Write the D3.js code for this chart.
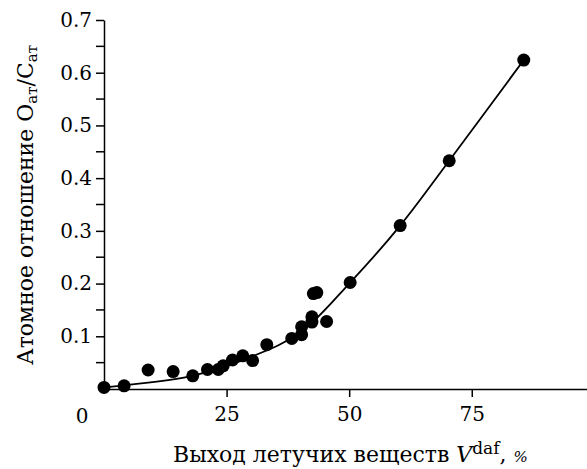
<!DOCTYPE html>
<html>
<head>
<meta charset="utf-8">
<script src="https://cdn.jsdelivr.net/npm/d3@7"></script>
<style>
  body { margin: 0; background: #fff; }
  svg text { font-family: "DejaVu Serif", serif; fill: #000; }
</style>
</head>
<body>
<div id="chart"></div>
<script>
// Atomic O/C ratio vs volatile matter yield

// measured points (V daf, %) and (O/C)
var pointX = [0, 4.1, 9.0, 14.1, 18.1, 21.1, 23.3, 24.3, 26.2, 28.3, 30.3, 33.2,
  38.3, 40.3, 40.3, 42.4, 42.4, 42.7, 43.4, 45.4, 50.2, 60.4, 70.4, 85.6]
var pointY = [0.003, 0.006, 0.036, 0.033, 0.025, 0.037, 0.037, 0.044, 0.055, 0.063, 0.054, 0.084,
  0.096, 0.103, 0.118, 0.137, 0.127, 0.181, 0.183, 0.128, 0.202, 0.310, 0.433, 0.624]

// fitted curve
var curveX = [0, 4.1, 18, 30, 40, 50.2, 60.4, 70.4, 85.6]
var curveY = [0.003, 0.007, 0.025, 0.061, 0.107, 0.202, 0.31, 0.433, 0.624]

// ticks
var xTicks = [25, 50, 75]
var yTicks = [0.1, 0.2, 0.3, 0.4, 0.5, 0.6, 0.7]
var yMinorTicks = [0.05, 0.15, 0.25, 0.35, 0.45, 0.55, 0.65]

var width = 587
var height = 469
var serif = '"DejaVu Serif", serif'

var x = d3.scaleLinear().domain([0, 98.5]).range([104, 587])
var y = d3.scaleLinear().domain([0, 0.7]).range([389, 20])

var svg = d3.select('#chart')
  .append('svg')
  .attr('width', width)
  .attr('height', height)

// y axis
var yAxis = d3.axisLeft(y)
  .tickValues(yTicks)
  .tickFormat(d3.format('.1f'))
  .tickSize(8)
  .tickPadding(4)
  .tickSizeOuter(0)

var gy = svg.append('g')
  .attr('transform', 'translate(' + x(0) + ',0)')
  .call(yAxis)

gy.selectAll('line.minor')
  .data(yMinorTicks)
  .enter()
  .append('line')
  .attr('class', 'minor')
  .attr('x1', -8).attr('x2', 0)
  .attr('y1', d => y(d)).attr('y2', d => y(d))
  .attr('stroke', '#000')
  .attr('stroke-width', 1.5)

// x axis
var xAxis = d3.axisBottom(x)
  .tickValues(xTicks)
  .tickSize(8)
  .tickPadding(10)
  .tickSizeOuter(0)

svg.append('g')
  .attr('transform', 'translate(0,' + y(0) + ')')
  .call(xAxis)

svg.selectAll('g').attr('font-family', serif)
svg.selectAll('.domain').attr('stroke', '#000').attr('stroke-width', 1.5)
svg.selectAll('.tick line').attr('stroke', '#000').attr('stroke-width', 1.5)
svg.selectAll('.tick text').attr('font-size', 20)

// origin label
svg.append('text')
  .attr('x', 82)
  .attr('y', 423)
  .attr('text-anchor', 'middle')
  .attr('font-size', 20)
  .text('0')

// fitted curve
var curveData = curveX.map((d, i) => [d, curveY[i]])
var line = d3.line()
  .x(d => x(d[0]))
  .y(d => y(d[1]))
  .curve(d3.curveCatmullRom.alpha(0.5))

svg.append('path')
  .datum(curveData)
  .attr('d', line)
  .attr('fill', 'none')
  .attr('stroke', '#000')
  .attr('stroke-width', 1.8)

// points
var pts = pointX.map((d, i) => ({ v: d, oc: pointY[i] }))
svg.selectAll('circle')
  .data(pts)
  .enter()
  .append('circle')
  .attr('cx', d => x(d.v))
  .attr('cy', d => y(d.oc))
  .attr('r', 6.5)
  .attr('fill', '#000')

// x label
var xl = svg.append('text')
  .attr('x', 173)
  .attr('y', 462)
  .attr('font-size', 22)
xl.append('tspan').text('Выход летучих веществ ')
xl.append('tspan').attr('font-style', 'italic').text('V')
xl.append('tspan').attr('font-size', 17).attr('dy', -8).text('daf')
xl.append('tspan').attr('dy', 8).text(', ')
xl.append('tspan').attr('font-size', 15).attr('font-style', 'italic').text('%')

// y label
var yl = svg.append('text')
  .attr('transform', 'translate(33,365) rotate(-90)')
  .attr('font-size', 22)
yl.append('tspan').text('Атомное отношение O')
yl.append('tspan').attr('font-size', 15).attr('dy', 4).text('ат')
yl.append('tspan').attr('dy', -4).text('/C')
yl.append('tspan').attr('font-size', 15).attr('dy', 4).text('ат')
</script>
</body>
</html>
